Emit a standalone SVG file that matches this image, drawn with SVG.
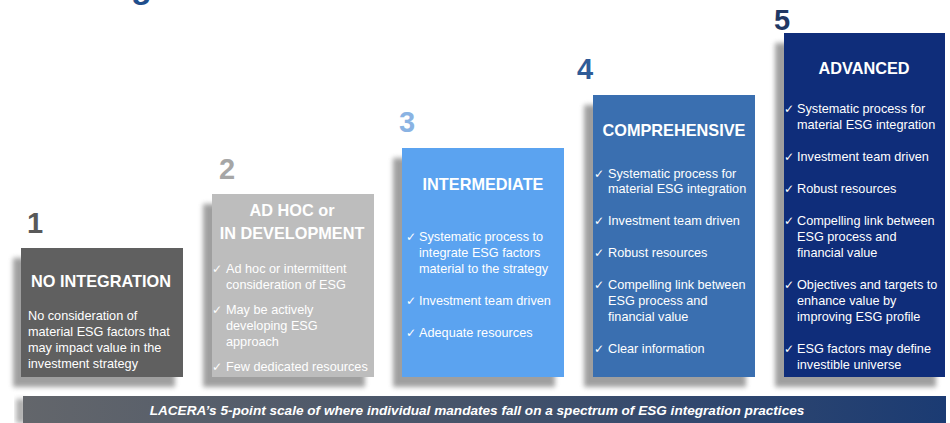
<svg xmlns="http://www.w3.org/2000/svg" width="950" height="423" viewBox="0 0 950 423">
<defs>
<filter id="blur" x="-20%" y="-20%" width="140%" height="140%"><feGaussianBlur stdDeviation="2.5"/></filter>
<linearGradient id="bannerGrad" x1="0" y1="0" x2="1" y2="0">
<stop offset="0" stop-color="#63666b"/>
<stop offset="0.5" stop-color="#45536a"/>
<stop offset="1" stop-color="#1b3b73"/>
</linearGradient>
</defs>
<style>
.shadow{fill:#8f8f8f;opacity:.85;filter:url(#blur)}
.num{font-family:"Liberation Sans",Arial,sans-serif;font-weight:bold;font-size:29px}
.title{font-family:"Liberation Sans",Arial,sans-serif;font-weight:bold;font-size:16.3px;fill:#fff;text-anchor:middle}
.body{font-family:"Liberation Sans",Arial,sans-serif;font-size:12.7px;fill:#fff}
.chk{font-family:"DejaVu Sans",sans-serif;font-size:12px;fill:#fff}
.banner{font-family:"Liberation Sans",Arial,sans-serif;font-weight:bold;font-style:italic;font-size:13.6px;fill:#fff;text-anchor:middle}
</style>
<rect width="950" height="423" fill="#fff"/>
<text x="131" y="-2" font-family="Liberation Sans, Arial, sans-serif" font-weight="bold" font-size="34" fill="#1f4e8c">g</text>

<g id="level1">
<rect class="shadow" x="13" y="258" width="162" height="129"/>
<rect x="21" y="248" width="162" height="129" fill="#606060"/>
<text class="num" x="27" y="233" fill="#595959">1</text>
<text class="title" x="101" y="287">NO INTEGRATION</text>
<text class="body" x="28" y="320" fill="#f2f2f2">No consideration of</text>
<text class="body" x="28" y="336">material ESG factors that</text>
<text class="body" x="28" y="352">may impact value in the</text>
<text class="body" x="28" y="368">investment strategy</text>
</g>

<g id="level2">
<rect class="shadow" x="203" y="204" width="162" height="183"/>
<rect x="212" y="194" width="162" height="183" fill="#bdbdbd"/>
<text class="num" x="219" y="179" fill="#a6a6a6">2</text>
<text class="title" x="292" y="216">AD HOC or</text>
<text class="title" x="292" y="239">IN DEVELOPMENT</text>
<text class="chk" x="212" y="273">✓</text>
<text class="body" x="226" y="273">Ad hoc or intermittent</text>
<text class="body" x="226" y="289">consideration of ESG</text>
<text class="chk" x="212" y="314">✓</text>
<text class="body" x="226" y="314">May be actively</text>
<text class="body" x="226" y="330">developing ESG</text>
<text class="body" x="226" y="346">approach</text>
<text class="chk" x="212" y="371">✓</text>
<text class="body" x="226" y="371">Few dedicated resources</text>
</g>

<g id="level3">
<rect class="shadow" x="393" y="158" width="162" height="229"/>
<rect x="402" y="148" width="162" height="229" fill="#5ba3f0"/>
<text class="num" x="399" y="132" fill="#8ab3e3">3</text>
<text class="title" x="483" y="190">INTERMEDIATE</text>
<text class="chk" x="406" y="241">✓</text>
<text class="body" x="419" y="241">Systematic process to</text>
<text class="body" x="419" y="257">integrate ESG factors</text>
<text class="body" x="419" y="273">material to the strategy</text>
<text class="chk" x="406" y="305">✓</text>
<text class="body" x="419" y="305">Investment team driven</text>
<text class="chk" x="406" y="337">✓</text>
<text class="body" x="419" y="337">Adequate resources</text>
</g>

<g id="level4">
<rect class="shadow" x="584" y="105" width="162" height="282"/>
<rect x="593" y="95" width="162" height="282" fill="#3a6fb0"/>
<text class="num" x="577" y="79" fill="#2f5b97">4</text>
<text class="title" x="674" y="136">COMPREHENSIVE</text>
<text class="chk" x="594" y="178">✓</text>
<text class="body" x="608" y="178">Systematic process for</text>
<text class="body" x="608" y="193">material ESG integration</text>
<text class="chk" x="594" y="225">✓</text>
<text class="body" x="608" y="225">Investment team driven</text>
<text class="chk" x="594" y="257">✓</text>
<text class="body" x="608" y="257">Robust resources</text>
<text class="chk" x="594" y="289">✓</text>
<text class="body" x="608" y="289">Compelling link between</text>
<text class="body" x="608" y="305">ESG process and</text>
<text class="body" x="608" y="321">financial value</text>
<text class="chk" x="594" y="353">✓</text>
<text class="body" x="608" y="353">Clear information</text>
</g>

<g id="level5">
<rect class="shadow" x="775" y="43" width="161" height="344"/>
<rect x="784" y="33" width="161" height="344" fill="#0f2d7a"/>
<text class="num" x="774" y="30" fill="#1f3864">5</text>
<text class="title" x="864" y="74">ADVANCED</text>
<text class="chk" x="784" y="113">✓</text>
<text class="body" x="797" y="113">Systematic process for</text>
<text class="body" x="797" y="129">material ESG integration</text>
<text class="chk" x="784" y="161">✓</text>
<text class="body" x="797" y="161">Investment team driven</text>
<text class="chk" x="784" y="193">✓</text>
<text class="body" x="797" y="193">Robust resources</text>
<text class="chk" x="784" y="225">✓</text>
<text class="body" x="797" y="225">Compelling link between</text>
<text class="body" x="797" y="241">ESG process and</text>
<text class="body" x="797" y="257">financial value</text>
<text class="chk" x="784" y="289">✓</text>
<text class="body" x="797" y="289">Objectives and targets to</text>
<text class="body" x="797" y="305">enhance value by</text>
<text class="body" x="797" y="321">improving ESG profile</text>
<text class="chk" x="784" y="353">✓</text>
<text class="body" x="797" y="353">ESG factors may define</text>
<text class="body" x="797" y="369">investible universe</text>
</g>

<g id="connectors"></g>

<g id="banner">
<rect x="16" y="399" width="10" height="24" fill="#7a7a7a" opacity=".6" filter="url(#blur)"/>
<rect x="23" y="396" width="923" height="27" fill="url(#bannerGrad)"/>
<text class="banner" x="477" y="415">LACERA’s 5-point scale of where individual mandates fall on a spectrum of ESG integration practices</text>
</g>
</svg>
